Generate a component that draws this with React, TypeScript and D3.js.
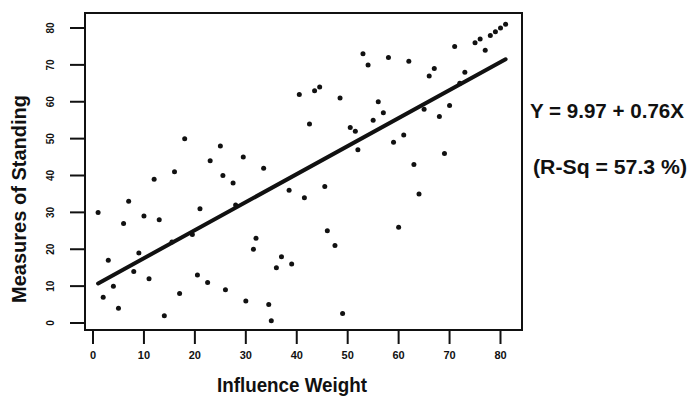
import React, { useRef, useEffect } from "react";
import * as d3 from "d3";

// Influence weight (x) and measures of standing (y)
const influenceWeight = [
  1, 2, 3, 4, 5, 6, 7, 8, 9, 10, 11, 12, 13, 14, 15.5, 16, 17, 18, 19.5, 20.5,
  21, 22.5, 23, 25, 25.5, 26, 27.5, 28, 29.5, 30, 31.5, 32, 33.5, 34.5, 35, 36,
  37, 38.5, 39, 40.5, 41.5, 42.5, 43.5, 44.5, 45.5, 46, 47.5, 48.5, 49, 50.5,
  51.5, 52, 53, 54, 55, 56, 57, 58, 59, 60, 61, 62, 63, 64, 65, 66, 67, 68, 69,
  70, 71, 72, 73, 75, 76, 77, 78, 79, 80, 81,
];
const standing = [
  30, 7, 17, 10, 4, 27, 33, 14, 19, 29, 12, 39, 28, 2, 22, 41, 8, 50, 24, 13,
  31, 11, 44, 48, 40, 9, 38, 32, 45, 6, 20, 23, 42, 5, 0.6, 15, 18, 36, 16, 62,
  34, 54, 63, 64, 37, 25, 21, 61, 2.6, 53, 52, 47, 73, 70, 55, 60, 57, 72, 49,
  26, 51, 71, 43, 35, 58, 67, 69, 56, 46, 59, 75, 65, 68, 76, 77, 74, 78, 79, 80,
  81,
];

// fitted line, from the printed equation
const intercept = 9.97;
const slope = 0.76;
const fitRange = [1, 81];

const xTicks = [0, 10, 20, 30, 40, 50, 60, 70, 80];
const yTicks = [0, 10, 20, 30, 40, 50, 60, 70, 80];

const equationLabel = "Y = 9.97 + 0.76X";
const rsqLabel = "(R-Sq = 57.3 %)";

const W = 692;
const H = 396;
const FONT = "'Liberation Sans', Arial, sans-serif";

export default function App() {
  const svgRef = useRef<SVGSVGElement>(null);

  useEffect(() => {
    const svg = d3.select(svgRef.current);
    svg.selectAll("*").remove();

    const x = d3.scaleLinear().domain([0, 80]).range([93, 500.5]);
    const y = d3.scaleLinear().domain([0, 80]).range([323, 28]);

    const box = { left: 85, right: 522, top: 13, bottom: 330 };

    svg.append("rect")
      .attr("x", box.left)
      .attr("y", box.top)
      .attr("width", box.right - box.left)
      .attr("height", box.bottom - box.top)
      .attr("fill", "none")
      .attr("stroke", "#111")
      .attr("stroke-width", 2);

    // y ticks, labels turned on their side
    const yg = svg.append("g");
    yg.selectAll("line")
      .data(yTicks)
      .join("line")
      .attr("x1", 70)
      .attr("x2", box.left)
      .attr("y1", d => y(d))
      .attr("y2", d => y(d))
      .attr("stroke", "#111")
      .attr("stroke-width", 2);
    yg.selectAll("text")
      .data(yTicks)
      .join("text")
      .attr("transform", d => `translate(54,${y(d)}) rotate(-90)`)
      .attr("text-anchor", "middle")
      .style("font-family", FONT)
      .style("font-weight", "bold")
      .style("font-size", "10px")
      .attr("fill", "#111")
      .text(d => d);

    // x ticks
    const xg = svg.append("g");
    xg.selectAll("line")
      .data(xTicks)
      .join("line")
      .attr("x1", d => x(d))
      .attr("x2", d => x(d))
      .attr("y1", box.bottom)
      .attr("y2", 344)
      .attr("stroke", "#111")
      .attr("stroke-width", 2);
    xg.selectAll("text")
      .data(xTicks)
      .join("text")
      .attr("x", d => x(d))
      .attr("y", 359)
      .attr("text-anchor", "middle")
      .style("font-family", FONT)
      .style("font-weight", "bold")
      .style("font-size", "11px")
      .attr("fill", "#111")
      .text(d => d);

    // regression line
    const line = d3.line<number>()
      .x(d => x(d))
      .y(d => y(intercept + slope * d));
    svg.append("path")
      .datum(fitRange)
      .attr("d", line)
      .attr("fill", "none")
      .attr("stroke", "#111")
      .attr("stroke-width", 4)
      .attr("stroke-linecap", "round");

    // points
    svg.append("g")
      .selectAll("circle")
      .data(influenceWeight.map((v, i) => [v, standing[i]]))
      .join("circle")
      .attr("cx", d => x(d[0]))
      .attr("cy", d => y(d[1]))
      .attr("r", 2.5)
      .attr("fill", "#111");

    // axis titles
    svg.append("text")
      .attr("x", 292)
      .attr("y", 392)
      .attr("text-anchor", "middle")
      .attr("textLength", 150)
      .attr("lengthAdjust", "spacingAndGlyphs")
      .style("font-family", FONT)
      .style("font-weight", "bold")
      .style("font-size", "20px")
      .attr("fill", "#111")
      .text("Influence Weight");

    svg.append("text")
      .attr("transform", "translate(26,199) rotate(-90)")
      .attr("text-anchor", "middle")
      .attr("textLength", 208)
      .attr("lengthAdjust", "spacingAndGlyphs")
      .style("font-family", FONT)
      .style("font-weight", "bold")
      .style("font-size", "20px")
      .attr("fill", "#111")
      .text("Measures of Standing");

    // fit annotation
    svg.append("text")
      .attr("x", 530)
      .attr("y", 118)
      .attr("textLength", 154)
      .attr("lengthAdjust", "spacingAndGlyphs")
      .style("font-family", FONT)
      .style("font-weight", "bold")
      .style("font-size", "20px")
      .attr("fill", "#111")
      .text(equationLabel);

    svg.append("text")
      .attr("x", 533)
      .attr("y", 174)
      .attr("textLength", 154)
      .attr("lengthAdjust", "spacingAndGlyphs")
      .style("font-family", FONT)
      .style("font-weight", "bold")
      .style("font-size", "20px")
      .attr("fill", "#111")
      .text(rsqLabel);
  }, []);

  return (
    <svg
      ref={svgRef}
      width={W}
      height={H}
      style={{ position: "absolute", left: 0, top: 0, background: "#fff", display: "block" }}
    />
  );
}
